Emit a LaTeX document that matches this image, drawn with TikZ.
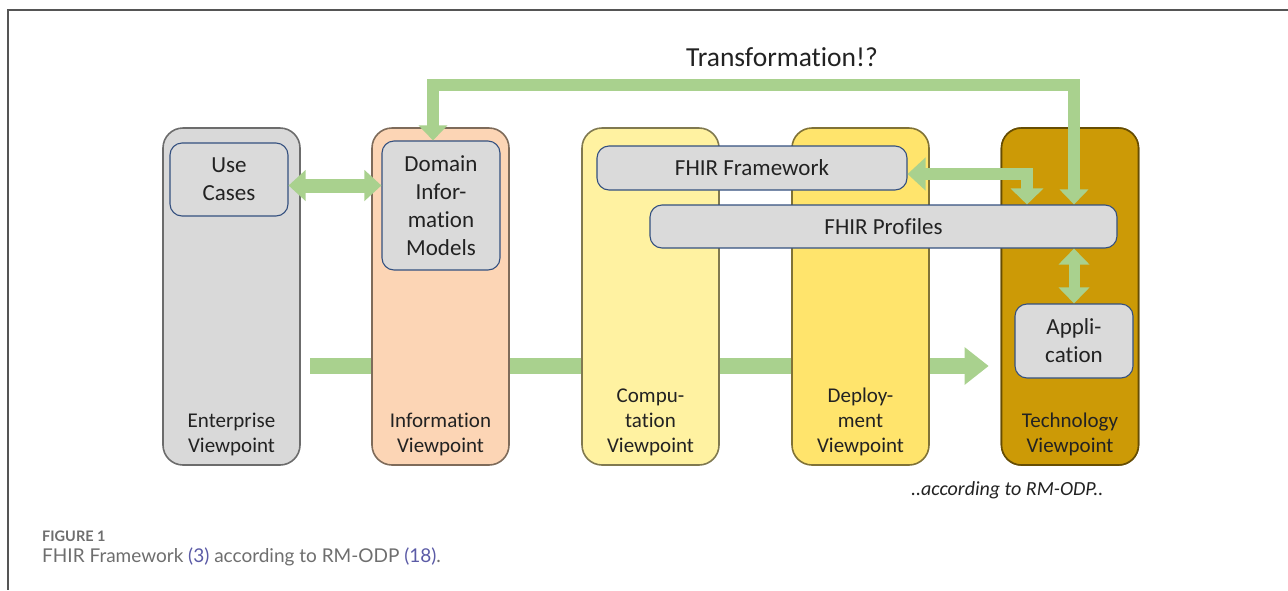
\documentclass[tikz,border=0pt]{standalone}
\usepackage{fontspec}
\setmainfont{Carlito}[Ligatures={NoCommon}]
\newfontfamily\capfont{Lato}
\usetikzlibrary{arrows.meta}
\definecolor{entc}{HTML}{D9D9D9}
\definecolor{infc}{HTML}{FCD5B5}
\definecolor{compc}{HTML}{FFF2A1}
\definecolor{depc}{HTML}{FFE46C}
\definecolor{techc}{HTML}{CC9A06}
\definecolor{garr}{HTML}{A9D18E}
\definecolor{innerc}{HTML}{DADADA}
\definecolor{navy}{HTML}{34507F}
\definecolor{capgray}{HTML}{6E6E6E}
\definecolor{caplink}{HTML}{5B5BA6}
\definecolor{framec}{HTML}{555555}
\definecolor{txt}{HTML}{222222}
\begin{document}
\begin{tikzpicture}[x=1pt,y=-1pt,
  vp/.style={rounded corners=20pt, minimum width=137pt, minimum height=337pt,
    line width=1.6pt, inner sep=0pt, fill=#1, draw=#1!50!black},
  innerbox/.style={draw=navy, fill=innerc, rounded corners=12pt, line width=1.1pt,
    align=center, inner sep=0pt, text=txt, font=\fontsize{23}{28}\selectfont},
  vplab/.style={align=center, anchor=south, inner sep=0pt, text=txt,
    font=\fontsize{21}{25}\selectfont},
  garrow/.style={draw=garr, line width=#1},
]
\useasboundingbox (0,0) rectangle (1288,590);
% frame
\draw[framec, line width=1.8pt] (7,10) -- (1288,10);
\draw[framec, line width=1.8pt] (8,10) -- (8,590);

% main flow bar (behind boxes)
\coordinate (flowstart) at (310,366);
\node[vp=techc] (tech) at (1070,296.5) {};
\draw[garrow=16pt, -{Triangle[width=36pt,length=24pt]}, shorten >=12pt]
  (flowstart) -- (tech.west |- flowstart);

% viewpoint boxes
\node[vp=entc] (ent) at (231.5,296.5) {};
\node[vp=infc] (inf) at (440.5,296.5) {};
\node[vp=compc] (comp) at (650.5,296.5) {};
\node[vp=depc] (dep) at (860.5,296.5) {};
\node[vp=techc] at (1070,296.5) {};

\node[vplab] at ([yshift=10pt]ent.south) {Enterprise\\Viewpoint};
\node[vplab] at ([yshift=10pt]inf.south) {Information\\Viewpoint};
\node[vplab] at ([yshift=10pt]comp.south) {Compu-\\tation\\Viewpoint};
\node[vplab] at ([yshift=10pt]dep.south) {Deploy-\\ment\\Viewpoint};
\node[vplab] at ([yshift=10pt]tech.south) {Technology\\Viewpoint};

% inner boxes
\node[innerbox, minimum width=118pt, minimum height=73pt] (uc) at (229,179.5) {Use\\Cases};
\node[innerbox, minimum width=118pt, minimum height=129pt] (dim) at (441,205.5) {Domain\\Infor-\\mation\\Models};
\node[innerbox, minimum width=310pt, minimum height=44pt] (fw) at (752,168) {FHIR Framework};
\node[innerbox, minimum width=467pt, minimum height=43pt] (prof) at (883.5,226.5) {FHIR Profiles};
\node[innerbox, minimum width=118pt, minimum height=74pt] (app) at (1074,341) {Appli-\\cation};

% arrows
\draw[garrow=14pt, {Triangle[width=30pt,length=17pt]}-{Triangle[width=30pt,length=17pt]}]
  ([yshift=-6pt]uc.east) -- ([yshift=-6pt]uc.east -| dim.west);

\coordinate (ttop) at (750,85);
\draw[garrow=12pt, {Triangle[width=28pt,length=15pt]}-{Triangle[width=28pt,length=15pt]}]
  ([xshift=-8pt]dim.north) |- (ttop) -| ([xshift=4pt]tech.center |- prof.north);

\coordinate (bend) at (1027,205);
\draw[garrow=12pt, {Triangle[width=32pt,length=18pt]}-{Triangle[width=32pt,length=16pt]}]
  ([yshift=-6pt]fw.east) -| (bend |- prof.north);

\draw[garrow=11pt, {Triangle[width=30pt,length=16pt]}-{Triangle[width=30pt,length=16pt]}]
  (app.north |- prof.south) -- (app.north);

% texts
\node[text=txt, font=\fontsize{27.5}{30}\selectfont] (title) at (782,57) {Transformation!?};
\node[text=txt, anchor=east, font=\itshape\fontsize{20}{24}\selectfont] (note) at (1107,490) {..according to RM-ODP..};

% caption
\node[anchor=base west, inner sep=0pt, text=capgray, font=\capfont\bfseries\fontsize{14.5}{16}\selectfont] (figlab) at (42,541) {FIGURE 1};
\node[anchor=base west, inner sep=0pt, text=capgray, font=\capfont\fontsize{19}{22}\selectfont] (cap) at (42,562)
  {FHIR Framework \textcolor{caplink}{(3)} according to RM-ODP \textcolor{caplink}{(18)}.};
\end{tikzpicture}
\end{document}
